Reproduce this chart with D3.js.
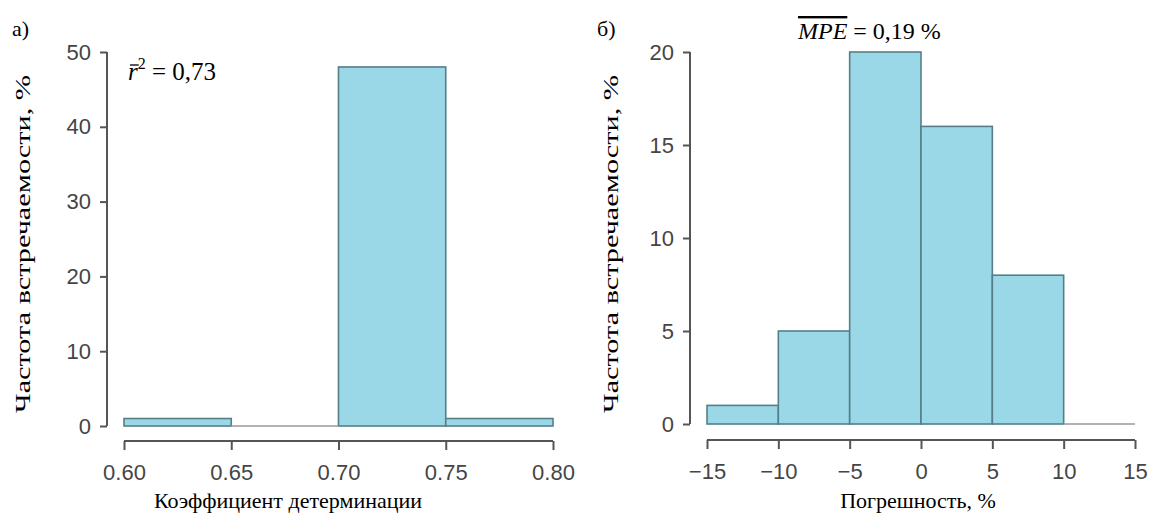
<!DOCTYPE html>
<html><head><meta charset="utf-8">
<script src="https://cdn.jsdelivr.net/npm/d3@7"></script>
<style>body{margin:0;background:#fff} .srf{font-family:"Liberation Serif","Times New Roman","DejaVu Serif",serif}</style>
</head><body>
<svg id="c" width="1150" height="518"></svg>
<script>
// Panel a: coefficient of determination histogram
const binsA = [0.60, 0.65, 0.70, 0.75, 0.80];
const freqA = [1, 0, 48, 1];
const ticksAX = [0.60, 0.65, 0.70, 0.75, 0.80];
const ticksAY = [0, 10, 20, 30, 40, 50];
// Panel b: error histogram
const binsB = [-15, -10, -5, 0, 5, 10, 15];
const freqB = [1, 5, 20, 16, 8, 0];
const ticksBX = [-15, -10, -5, 0, 5, 10, 15];
const ticksBY = [0, 5, 10, 15, 20];

const svg = d3.select("#c");
const sans = "'Liberation Sans',Arial,sans-serif";

function panel(o) {
  const x = d3.scaleLinear().domain(o.xd).range(o.xr);
  const y = d3.scaleLinear().domain(o.yd).range(o.yr);
  const g = svg.append("g");
  const bars = o.bins.slice(0, -1).map((b, i) => ({x0: b, x1: o.bins[i + 1], v: o.freq[i]}));
  g.selectAll("rect").data(bars.filter(d => d.v > 0)).join("rect")
    .attr("x", d => x(d.x0)).attr("width", d => x(d.x1) - x(d.x0))
    .attr("y", d => y(d.v)).attr("height", d => y(0) - y(d.v))
    .attr("fill", "#9bd8e7").attr("stroke", "#557f88").attr("stroke-width", 1.6);
  g.selectAll("line.z").data(bars.filter(d => d.v === 0)).join("line")
    .attr("x1", d => x(d.x0)).attr("x2", d => x(d.x1))
    .attr("y1", y(0)).attr("y2", y(0)).attr("stroke", "#999").attr("stroke-width", 1.6);
  const xa = g.append("g").attr("transform", `translate(0,${o.xAxisY})`)
    .call(d3.axisBottom(x).tickValues(o.xt).tickSize(9).tickSizeOuter(0).tickPadding(14)
      .tickFormat(o.xf));
  const ya = g.append("g").attr("transform", `translate(${o.yAxisX},0)`)
    .call(d3.axisLeft(y).tickValues(o.yt).tickSize(7).tickSizeOuter(0).tickPadding(9));
  [xa, ya].forEach(a => {
    a.select(".domain").attr("stroke", "#555").attr("stroke-width", 2);
    a.selectAll(".tick line").attr("stroke", "#555").attr("stroke-width", 2);
    a.selectAll(".tick text").attr("fill", "#454545").attr("font-family", null)
      .style("font-family", sans).style("font-size", "22px");
  });
  xa.select(".domain").attr("d", `M${x(o.xt[0])},0H${x(o.xt[o.xt.length - 1])}`);
  ya.select(".domain").attr("d", `M0,${y(o.yt[0])}V${y(o.yt[o.yt.length - 1])}`);
  g.append("text").attr("class", "srf").attr("x", o.xLabX).attr("y", 508).attr("text-anchor", "middle")
    .style("font-size", "22px").text(o.xLab);
  g.append("text").attr("class", "srf").attr("transform", `translate(${o.yLabX},${o.yLabY}) rotate(-90)`)
    .attr("text-anchor", "middle").attr("textLength", 338).attr("lengthAdjust", "spacingAndGlyphs")
    .style("font-size", "22px")
    .text("Частота встречаемости, %");
  g.append("text").attr("class", "srf").attr("x", o.tagX).attr("y", 36).style("font-size", "22px").text(o.tag);
  return {x, y, g};
}

panel({xd: [0.6, 0.8], xr: [124, 553], yd: [0, 50], yr: [426, 52],
  bins: binsA, freq: freqA, xt: ticksAX, yt: ticksAY, xf: d3.format(".2f"),
  xAxisY: 441, yAxisX: 107, xLab: "Коэффициент детерминации", xLabX: 288,
  yLabX: 30, yLabY: 244, tag: "а)", tagX: 12});
panel({xd: [-15, 15], xr: [707, 1135], yd: [0, 20], yr: [424, 52],
  bins: binsB, freq: freqB, xt: ticksBX, yt: ticksBY, xf: d => d < 0 ? "\u2212" + Math.abs(d) : d,
  xAxisY: 440, yAxisX: 690, xLab: "Погрешность, %", xLabX: 918,
  yLabX: 618, yLabY: 244, tag: "б)", tagX: 597});

// annotations
const t1 = svg.append("text").attr("class", "srf").attr("x", 128).attr("y", 80).style("font-size", "25px");
t1.append("tspan").style("font-style", "italic").text("r");
t1.append("tspan").attr("dy", -11).style("font-size", "16px").text("2");
t1.append("tspan").attr("dy", 11).text(" = 0,73");
const rb = t1.node().getExtentOfChar(0);
svg.append("line").attr("x1", rb.x + 2).attr("x2", rb.x + rb.width + 1)
  .attr("y1", 80 - 15).attr("y2", 80 - 15).attr("stroke", "#000").attr("stroke-width", 1.3);

const t2 = svg.append("text").attr("class", "srf").attr("x", 798).attr("y", 39).style("font-size", "24px");
t2.append("tspan").style("font-style", "italic").style("text-decoration", "overline").text("MPE");
t2.append("tspan").text(" = 0,19 %");
</script>
</body></html>
